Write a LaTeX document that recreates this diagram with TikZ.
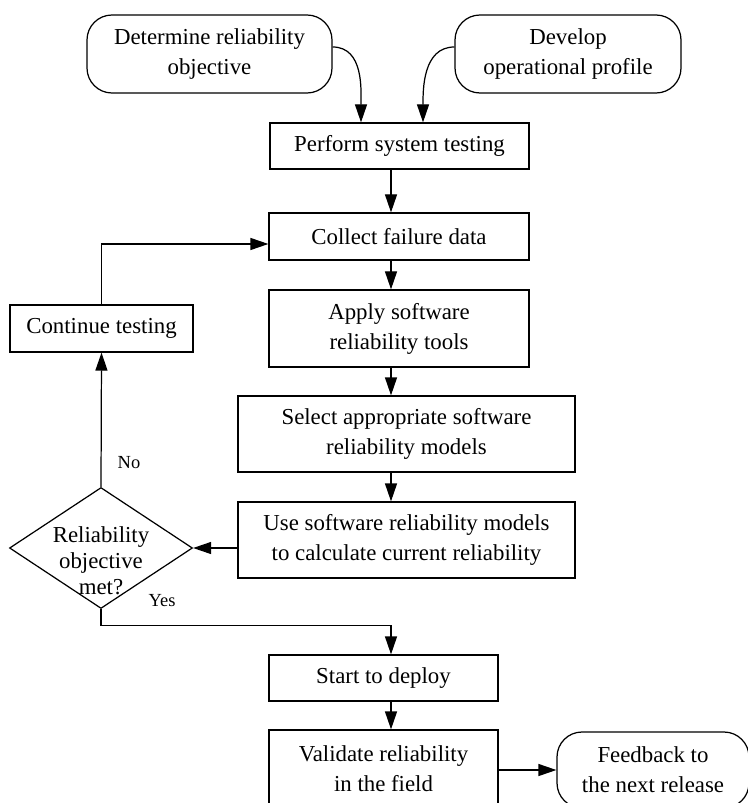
\documentclass[tikz,border=0pt]{standalone}
\usepackage{fontspec}
\setmainfont{Liberation Serif}
\usepackage{tikz}
\usetikzlibrary{positioning, arrows.meta, shapes.geometric}

\begin{document}
\begin{tikzpicture}[
  font=\fontsize{13}{17}\selectfont,
  line width=0.7pt,
  >={Triangle[length=3.6mm,width=2.4mm]},
  proc/.style={draw, align=center, inner sep=2pt},
  term/.style={draw, rounded corners=0.5cm, align=center, inner sep=2pt},
  decide/.style={draw, diamond, align=center, inner sep=0pt,
    minimum width=3.66cm, minimum height=2.42cm,
    font=\fontsize{13}{13.7}\selectfont},
  lbl/.style={font=\fontsize{10.5}{12}\selectfont, inner sep=0pt}
]
\useasboundingbox (0,0) rectangle (14.94,-16.06);
\coordinate (spine) at (7.82,0);

% Starting activities
\node[term, minimum width=4.9cm, minimum height=1.56cm] (goal) at (4.19,-1.08)
  {Determine reliability\\objective};
\node[term, minimum width=4.52cm, minimum height=1.56cm] (profile) at (11.36,-1.08)
  {Develop\\operational profile};

% Main testing column
\node[proc, minimum width=5.18cm, minimum height=0.92cm] (systest) at (7.99,-2.92)
  {Perform system testing};
\node[proc, minimum width=5.2cm, minimum height=0.94cm] (collect) at (7.98,-4.73)
  {Collect failure data};
\node[proc, minimum width=5.2cm, minimum height=1.54cm] (tools) at (7.98,-6.57)
  {Apply software\\reliability tools};
\node[proc, minimum width=6.74cm, minimum height=1.52cm] (select) at (8.13,-8.68)
  {Select appropriate software\\reliability models};
\node[proc, minimum width=6.74cm, minimum height=1.52cm] (usemod) at (8.13,-10.8)
  {Use software reliability models\\to calculate current reliability};

% Decision and loop back
\node[decide] (met) at (2.02,-10.96)
  {\raisebox{-0.92cm}[0pt][0pt]{\shortstack{Reliability\\objective\\met?}}};
\node[proc, minimum width=3.66cm, minimum height=0.94cm] (cont) at (2.03,-6.57)
  {Continue testing};
\node[lbl, anchor=west] (yes) at (2.96,-12.02) {Yes};

% Deployment
\node[proc, minimum width=4.58cm, minimum height=0.92cm] (deploy) at (7.67,-13.56)
  {Start to deploy};
\node[proc, minimum width=4.58cm, minimum height=1.54cm] (field) at (7.67,-15.37)
  {Validate reliability\\in the field};
\node[term, minimum width=3.84cm, minimum height=1.52cm] (feedback) at (13.06,-15.4)
  {Feedback to\\the next release};

% Connectors
\draw[->] ([yshift=0.14cm]goal.east) to[out=0, in=90] ([xshift=-0.77cm]systest.north);
\draw[->] ([yshift=0.14cm]profile.west) to[out=180, in=90] ([xshift=0.47cm]systest.north);
\draw[->] (spine |- systest.south) -- (spine |- collect.north);
\draw[->] (spine |- collect.south) -- (spine |- tools.north);
\draw[->] (spine |- tools.south) -- (spine |- select.north);
\draw[->] (spine |- select.south) -- (spine |- usemod.north);
\draw[->] (usemod.west |- met.east) -- (met.east);
\draw[->] (met.north) -- (cont.south)
  node[lbl, pos=0.18, right=0.32cm] (no) {No};
\draw[->] (cont.north) |- ([yshift=-0.15cm]collect.west);
\draw[->] (met.south) -- ++(0,-0.32) -| (spine |- deploy.north);
\draw[->] (spine |- deploy.south) -- (spine |- field.north);
\draw[->] (field.east |- feedback.west) -- (feedback.west);
\end{tikzpicture}
\end{document}
